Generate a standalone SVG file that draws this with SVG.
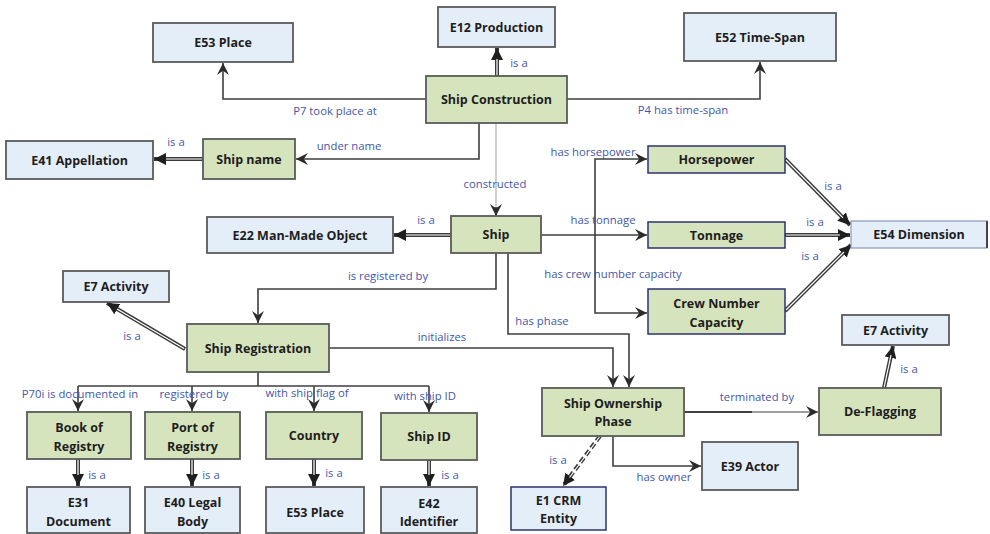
<svg xmlns="http://www.w3.org/2000/svg" width="990" height="534" viewBox="0 0 990 534">
<defs>
<style>
.g{fill:#d6e4bd;stroke:#5a5a5a;stroke-width:1.8}
.b{fill:#e4eef9;stroke:#5a5a5a;stroke-width:1.8}
.gn{fill:#d6e4bd;stroke:#2e3270;stroke-width:1.5}
.bn{fill:#e4eef9;stroke:#2e3270;stroke-width:1.5}
.t{font-family:"Open Sans","Liberation Sans",sans-serif;font-weight:bold;font-size:12.5px;fill:#1e1e1e;text-anchor:middle}
.l{font-family:"Open Sans","Liberation Sans",sans-serif;font-size:11.3px;fill:#4257a9;text-anchor:middle}
.ln{fill:none;stroke:#3f3f3f;stroke-width:1.6}
.lt{fill:none;stroke:#c4c4c4;stroke-width:1.6}
.io{fill:none;stroke:#3a3a3a;stroke-width:4}
.ii{fill:none;stroke:#ffffff;stroke-width:1.2}
.dash{stroke-dasharray:6 3}
</style>
<marker id="arr" markerUnits="userSpaceOnUse" markerWidth="12" markerHeight="12" viewBox="0 0 10 10" refX="10" refY="5" orient="auto">
<path d="M0,0 L10,5 L0,10 L3.5,5 z" fill="#2b2b2b"/>
</marker>
<marker id="tri" markerUnits="userSpaceOnUse" markerWidth="12" markerHeight="12" viewBox="0 0 10 10" refX="10" refY="5" orient="auto">
<path d="M0,0 L10,5 L0,10 z" fill="#1f1f1f"/>
</marker>
</defs>

<g id="connectors">
<path class="io" d="M497,76 V48" marker-end="url(#tri)"/>
<path class="ii" d="M497,75 V59"/>
<path class="ln" d="M426,99 H223 V63" marker-end="url(#arr)"/>
<path class="ln" d="M567,99 H760 V62" marker-end="url(#arr)"/>
<path class="ln" d="M479,123 V159 H296" marker-end="url(#arr)"/>
<path class="lt" d="M496,123 V208"/>
<path class="ln" d="M496,207 V216" marker-end="url(#arr)"/>
<path class="io" d="M203,159 H154" marker-end="url(#tri)"/>
<path class="ii" d="M202,159 H166"/>
<path class="io" d="M451,235 H394" marker-end="url(#tri)"/>
<path class="ii" d="M450,235 H406"/>
<path class="ln" d="M541,235 H647" marker-end="url(#arr)"/>
<path class="ln" d="M595,235 V159 H647" marker-end="url(#arr)"/>
<path class="ln" d="M595,235 V313 H647" marker-end="url(#arr)"/>
<path class="ln" d="M508,253 V334 H629 V387" marker-end="url(#arr)"/>
<path class="ln" d="M496,253 V289 H258 V323" marker-end="url(#arr)"/>
<path class="ln" d="M329,348 H613 V387" marker-end="url(#arr)"/>
<path class="io" d="M185,349 L107,303" marker-end="url(#tri)"/>
<path class="ii" d="M184,348.4 L117,308.9"/>
<path class="ln" d="M258,372 V386 M78,386 H429"/>
<path class="ln" d="M78,386 V411" marker-end="url(#arr)"/>
<path class="ln" d="M192,386 V411" marker-end="url(#arr)"/>
<path class="ln" d="M314,386 V411" marker-end="url(#arr)"/>
<path class="ln" d="M429,386 V412" marker-end="url(#arr)"/>
<path class="io" d="M78,459 V486" marker-end="url(#tri)"/>
<path class="ii" d="M78,460 V475"/>
<path class="io" d="M192,459 V486" marker-end="url(#tri)"/>
<path class="ii" d="M192,460 V475"/>
<path class="io" d="M314,459 V486" marker-end="url(#tri)"/>
<path class="ii" d="M314,460 V475"/>
<path class="io" d="M429,460 V486" marker-end="url(#tri)"/>
<path class="ii" d="M429,461 V475"/>
<path class="ln" d="M684,412 H752" style="stroke-width:2.2"/>
<path class="ln" d="M752,412 H818" style="stroke-width:1.2" marker-end="url(#arr)"/>
<path class="ln" d="M613,436 V466 H701" marker-end="url(#arr)"/>
<path class="io dash" d="M600,436 L563,486" marker-end="url(#tri)"/>
<path class="ii" d="M599.4,437 L569.5,477.5"/>
<path class="io" d="M884,388 L893,346" marker-end="url(#tri)"/>
<path class="ii" d="M884.2,387 L891,355"/>
<path class="io" d="M785,159 L850,225" marker-end="url(#tri)"/>
<path class="ii" d="M786,160 L843,217.8"/>
<path class="io" d="M785,235 H850" marker-end="url(#tri)"/>
<path class="ii" d="M786,235 H840"/>
<path class="io" d="M785,311 L851,245" marker-end="url(#tri)"/>
<path class="ii" d="M786,310 L844,252"/>
</g>

<g id="labels">
<text class="l" x="519" y="67">is a</text>
<text class="l" x="335" y="115">P7 took place at</text>
<text class="l" x="683" y="114">P4 has time-span</text>
<text class="l" x="176" y="146">is a</text>
<text class="l" x="349" y="150">under name</text>
<text class="l" x="593" y="156">has horsepower</text>
<text class="l" x="495" y="188">constructed</text>
<text class="l" x="426" y="224">is a</text>
<text class="l" x="603" y="224">has tonnage</text>
<text class="l" x="388" y="280">is registered by</text>
<text class="l" x="613" y="278">has crew number capacity</text>
<text class="l" x="542" y="325">has phase</text>
<text class="l" x="442" y="341">initializes</text>
<text class="l" x="132" y="340">is a</text>
<text class="l" x="833" y="190">is a</text>
<text class="l" x="815" y="226">is a</text>
<text class="l" x="810" y="260">is a</text>
<text class="l" x="80" y="398">P70i is documented in</text>
<text class="l" x="194" y="398">registered by</text>
<text class="l" x="307" y="397">with ship flag of</text>
<text class="l" x="425" y="400">with ship ID</text>
<text class="l" x="97" y="479">is a</text>
<text class="l" x="211" y="479">is a</text>
<text class="l" x="334" y="477">is a</text>
<text class="l" x="450" y="479">is a</text>
<text class="l" x="757" y="401">terminated by</text>
<text class="l" x="909" y="373">is a</text>
<text class="l" x="664" y="481">has owner</text>
<text class="l" x="558" y="464">is a</text>
</g>

<g id="n-e53-place-top"><rect class="b" x="153" y="23" width="140" height="39"/><text class="t" x="223" y="47">E53 Place</text></g>
<g id="n-e12"><rect class="b" x="438" y="7" width="117" height="40"/><text class="t" x="496.5" y="31.5">E12 Production</text></g>
<g id="n-e52"><rect class="b" x="684" y="13" width="152" height="48"/><text class="t" x="760" y="41.5">E52 Time-Span</text></g>
<g id="n-ship-construction"><rect class="g" x="426" y="76" width="141" height="47"/><text class="t" x="496.5" y="104">Ship Construction</text></g>
<g id="n-e41"><rect class="b" x="6" y="141" width="147" height="38"/><text class="t" x="79.5" y="164.5">E41 Appellation</text></g>
<g id="n-ship-name"><rect class="g" x="203" y="139" width="92" height="40"/><text class="t" x="249" y="163.5">Ship name</text></g>
<g id="n-horsepower"><rect class="gn" x="648" y="146" width="137" height="27"/><text class="t" x="716.5" y="164">Horsepower</text></g>
<g id="n-e22"><rect class="b" x="207" y="217" width="186" height="36"/><text class="t" x="300" y="239.5">E22 Man-Made Object</text></g>
<g id="n-ship"><rect class="g" x="451" y="216" width="90" height="37"/><text class="t" x="496" y="239">Ship</text></g>
<g id="n-tonnage"><rect class="gn" x="648" y="222" width="137" height="26"/><text class="t" x="716.5" y="239.5">Tonnage</text></g>
<g id="n-e54"><rect class="b" x="851" y="221" width="136" height="27" style="stroke:#8d98b8;stroke-width:1.2"/><line x1="987" y1="221" x2="987" y2="248" stroke="#444" stroke-width="2"/><text class="t" x="919" y="239">E54 Dimension</text></g>
<g id="n-e7-left"><rect class="b" x="63" y="271" width="106" height="31"/><text class="t" x="116" y="291">E7 Activity</text></g>
<g id="n-crew"><rect class="gn" x="648" y="289" width="137" height="45"/><text class="t" x="716.5" y="307.5">Crew Number</text><text class="t" x="716.5" y="326.5">Capacity</text></g>
<g id="n-ship-registration"><rect class="g" x="187" y="324" width="142" height="48"/><text class="t" x="258" y="352.5">Ship Registration</text></g>
<g id="n-e7-right"><rect class="b" x="842" y="315" width="107" height="30"/><text class="t" x="895.5" y="334.5">E7 Activity</text></g>
<g id="n-sop"><rect class="g" x="542" y="388" width="142" height="48"/><text class="t" x="613" y="407.5">Ship Ownership</text><text class="t" x="613" y="426">Phase</text></g>
<g id="n-deflagging"><rect class="g" x="819" y="388" width="122" height="47"/><text class="t" x="880" y="416">De-Flagging</text></g>
<g id="n-book"><rect class="g" x="27" y="412" width="104" height="47"/><text class="t" x="79" y="431.5">Book of</text><text class="t" x="79" y="450.5">Registry</text></g>
<g id="n-port"><rect class="g" x="145" y="412" width="95" height="47"/><text class="t" x="192.5" y="431.5">Port of</text><text class="t" x="192.5" y="450.5">Registry</text></g>
<g id="n-country"><rect class="g" x="266" y="412" width="96" height="47"/><text class="t" x="314" y="440">Country</text></g>
<g id="n-shipid"><rect class="g" x="381" y="413" width="96" height="47"/><text class="t" x="429" y="441">Ship ID</text></g>
<g id="n-e39"><rect class="b" x="702" y="442" width="96" height="48"/><text class="t" x="750" y="470.5">E39 Actor</text></g>
<g id="n-e1"><rect class="bn" x="511" y="487" width="95" height="43"/><text class="t" x="558.5" y="504.5">E1 CRM</text><text class="t" x="558.5" y="522.5">Entity</text></g>
<g id="n-e31"><rect class="b" x="27" y="487" width="103" height="46"/><text class="t" x="78.5" y="506.5">E31</text><text class="t" x="78.5" y="525.5">Document</text></g>
<g id="n-e40"><rect class="b" x="145" y="487" width="95" height="46"/><text class="t" x="192.5" y="506.5">E40 Legal</text><text class="t" x="192.5" y="525.5">Body</text></g>
<g id="n-e53-place-bottom"><rect class="b" x="266" y="487" width="98" height="46"/><text class="t" x="315" y="516.5">E53 Place</text></g>
<g id="n-e42"><rect class="b" x="381" y="487" width="96" height="46"/><text class="t" x="429" y="507.5">E42</text><text class="t" x="429" y="525.5">Identifier</text></g>
</svg>
